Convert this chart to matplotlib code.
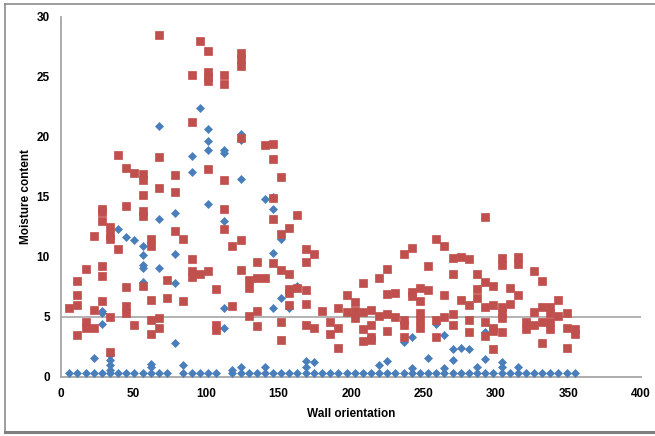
import matplotlib
matplotlib.use("Agg")
import matplotlib.pyplot as plt
from matplotlib.lines import Line2D

# ---------------- data ----------------
blue_x = [5.6, 11.3, 16.9,
          22.5, 22.5,
          28.1, 28.1, 28.1, 28.1,
          33.8, 33.8, 33.8, 33.8, 33.8,
          39.4, 39.4, 45.0, 45.0, 50.6, 50.6,
          56.3, 56.3, 56.3, 56.3, 56.3, 56.3,
          61.9, 61.9, 61.9,
          67.5, 67.5, 67.5, 67.5,
          73.1,
          78.8, 78.8, 78.8, 78.8,
          84.4, 84.4,
          90.0, 90.0, 90.0,
          95.6, 95.6,
          101.3, 101.3, 101.3, 101.3, 101.3,
          106.9,
          112.5, 112.5, 112.5, 112.5, 112.5,
          118.1, 118.1,
          123.8, 123.8, 123.8, 123.8, 123.8,
          129.4, 135.0,
          140.6, 140.6, 140.6,
          146.3, 146.3, 146.3, 146.3, 146.3,
          151.9, 151.9, 151.9,
          157.5, 157.5,
          163.1, 163.1,
          168.8, 168.8, 168.8,
          174.4, 174.4,
          180.0, 185.6, 191.3, 196.9, 202.5, 208.1, 213.8,
          219.4, 219.4, 225.0, 225.0, 230.6,
          236.3, 236.3,
          241.9, 241.9, 241.9,
          247.5,
          253.1, 253.1,
          258.8, 258.8,
          264.4, 264.4, 264.4,
          270.0, 270.0, 270.0,
          275.6, 275.6,
          281.3, 281.3,
          286.9, 286.9,
          292.5, 292.5, 292.5,
          298.1,
          303.8, 303.8, 303.8,
          309.4,
          315.0, 315.0,
          320.6, 326.3, 331.9, 337.5, 343.1, 348.8, 354.4]
blue_y = [0.35, 0.35, 0.35,
          1.6, 0.35,
          5.5, 5.3, 4.4, 0.35,
          1.8, 1.4, 1.0, 0.6, 0.35,
          12.3, 0.35, 11.6, 0.35, 11.4, 0.35,
          10.9, 10.1, 9.3, 9.1, 7.9, 0.35,
          1.1, 0.8, 0.35,
          20.9, 13.1, 9.1, 0.35,
          0.35,
          13.6, 10.25, 7.8, 2.8,
          1.0, 0.35,
          18.4, 17.05, 0.35,
          22.4, 0.35,
          20.6, 19.6, 18.9, 14.4, 0.35,
          0.35,
          18.9, 18.6, 12.95, 5.7, 4.1,
          0.6, 0.35,
          20.2, 19.7, 16.5, 0.84, 0.35,
          0.35, 0.35,
          14.8, 0.84, 0.35,
          15.0, 14.0, 10.3, 5.75, 0.35,
          11.5, 6.6, 0.35,
          5.7, 0.35,
          7.6, 0.35,
          1.34, 0.84, 0.35,
          1.25, 0.35,
          0.35, 0.35, 0.35, 0.35, 0.35, 0.35, 0.35,
          1.0, 0.35, 1.34, 0.35, 0.35,
          2.9, 0.35,
          3.3, 0.7, 0.35,
          0.35,
          1.56, 0.35,
          4.4, 0.35,
          3.5, 0.75, 0.35,
          2.3, 1.4, 0.35,
          2.4, 0.35,
          2.3, 0.35,
          0.84, 0.35,
          3.75, 1.45, 0.35,
          0.35,
          1.25, 0.84, 0.35,
          0.35,
          0.84, 0.35,
          0.35, 0.35, 0.35, 0.35, 0.35, 0.35, 0.35]

red_x = [5.6,
         11.3, 11.3, 11.3, 11.3,
         16.9, 16.9, 16.9,
         22.5, 22.5, 22.5,
         28.1, 28.1, 28.1, 28.1, 28.1, 28.1,
         33.8, 33.8, 33.8, 33.8, 33.8,
         39.4, 39.4,
         45.0, 45.0, 45.0, 45.0, 45.0,
         50.6, 50.6,
         56.3, 56.3, 56.3, 56.3, 56.3, 56.3,
         61.9, 61.9, 61.9, 61.9, 61.9,
         67.5, 67.5, 67.5, 67.5, 67.5,
         73.1, 73.1,
         78.8, 78.8, 78.8,
         84.4, 84.4,
         90.0, 90.0, 90.0, 90.0, 90.0,
         95.6, 95.6,
         101.3, 101.3, 101.3, 101.3, 101.3, 101.3,
         106.9, 106.9, 106.9,
         112.5, 112.5, 112.5, 112.5, 112.5,
         118.1, 118.1,
         123.8, 123.8, 123.8, 123.8, 123.8, 123.8,
         129.4, 129.4, 129.4,
         135.0, 135.0, 135.0, 135.0,
         140.6, 140.6,
         146.3, 146.3, 146.3, 146.3, 146.3,
         151.9, 151.9, 151.9, 151.9, 151.9,
         157.5, 157.5, 157.5, 157.5, 157.5,
         163.1, 163.1,
         168.8, 168.8, 168.8, 168.8, 168.8,
         174.4, 174.4,
         180.0,
         185.6, 185.6,
         191.3, 191.3, 191.3,
         196.9, 196.9,
         202.5, 202.5, 202.5,
         208.1, 208.1, 208.1, 208.1,
         213.8, 213.8, 213.8, 213.8,
         219.4, 219.4,
         225.0, 225.0, 225.0, 225.0,
         230.6, 230.6,
         236.3, 236.3, 236.3, 236.3,
         241.9, 241.9, 241.9,
         247.5, 247.5, 247.5, 247.5, 247.5,
         253.1, 253.1,
         258.8, 258.8, 258.8,
         264.4, 264.4, 264.4,
         270.0, 270.0, 270.0, 270.0,
         275.6, 275.6,
         281.3, 281.3, 281.3, 281.3,
         286.9, 286.9, 286.9,
         292.5, 292.5, 292.5, 292.5, 292.5,
         298.1, 298.1, 298.1, 298.1, 298.1,
         303.8, 303.8, 303.8, 303.8, 303.8, 303.8,
         309.4, 309.4,
         315.0, 315.0, 315.0,
         320.6, 320.6,
         326.3, 326.3, 326.3,
         331.9, 331.9, 331.9, 331.9,
         337.5, 337.5, 337.5, 337.5,
         343.1, 343.1,
         348.8, 348.8, 348.8,
         354.4, 354.4]
red_y = [5.7,
         7.95, 6.8, 6.0, 3.5,
         9.0, 4.6, 4.1,
         11.7, 5.6, 4.1,
         14.0, 13.7, 13.0, 9.2, 8.4, 6.3,
         12.5, 11.8, 11.5, 4.95, 2.1,
         18.5, 10.6,
         17.4, 14.2, 7.5, 5.9, 5.3,
         17.0, 4.3,
         16.9, 16.4, 15.1, 13.8, 13.4, 7.6,
         11.5, 10.9, 6.4, 4.7, 3.6,
         28.5, 18.3, 15.7, 4.9, 4.1,
         8.1, 6.6,
         16.8, 15.4, 12.1,
         11.5, 6.3,
         25.1, 21.2, 9.8, 8.8, 8.3,
         28.0, 8.6,
         27.1, 25.4, 25.0, 24.6, 17.3, 8.8,
         7.3, 4.3, 3.9,
         25.1, 24.4, 16.4, 14.0, 12.3,
         10.9, 5.9,
         27.0, 26.5, 25.9, 19.9, 11.4, 8.9,
         8.1, 7.4, 5.1,
         9.6, 8.2, 5.5, 4.2,
         19.3, 8.2,
         19.4, 18.1, 14.9, 13.1, 9.5,
         16.6, 11.9, 8.9, 4.6, 3.1,
         12.4, 8.6, 7.3, 7.0, 6.0,
         13.5, 7.4,
         10.6, 9.6, 7.2, 6.1, 4.3,
         10.2, 4.1,
         5.5,
         4.6, 3.6,
         5.7, 4.1, 2.4,
         6.8, 5.4,
         6.2, 5.5, 4.9,
         7.8, 5.4, 4.0, 3.0,
         5.6, 4.3, 3.3, 3.1,
         8.2, 5.1,
         9.0, 6.9, 5.2, 3.8,
         7.0, 5.0,
         10.2, 4.7, 4.3, 3.3,
         10.7, 7.1, 6.7,
         7.4, 6.3, 5.3, 4.7, 4.1,
         9.2, 7.2,
         11.5, 4.7, 3.3,
         10.9, 6.8, 5.0,
         9.9, 8.6, 5.2, 4.3,
         10.0, 6.4,
         9.8, 6.0, 4.7, 3.7,
         8.6, 7.3, 6.6,
         13.3, 7.9, 5.8, 4.6, 3.4,
         7.6, 6.0, 4.1, 3.8, 2.3,
         9.9, 9.3, 5.8, 5.3, 4.9, 3.7,
         7.4, 6.1,
         10.0, 9.4, 6.8,
         4.6, 3.95,
         8.8, 5.4, 4.3,
         8.0, 5.8, 4.6, 2.8,
         5.8, 5.3, 4.6, 3.95,
         6.4, 5.1,
         5.3, 4.1, 2.4,
         4.0, 3.6]

threshold = 5
x_ticks = [0, 50, 100, 150, 200, 250, 300, 350, 400]
y_ticks = [0, 5, 10, 15, 20, 25, 30]
x_label = "Wall orientation"
y_label = "Moisture content"

# ---------------- plot ----------------
plt.rcParams['font.family'] = ['Liberation Sans', 'DejaVu Sans']
W, H = 655, 436
fig = plt.figure(figsize=(W / 100, H / 100), dpi=100)
ax = fig.add_axes([61 / W, (H - 376.7) / H, (641 - 61) / W, (376.7 - 16.7) / H])

blue_c = "#4A7EBB"
red_c = "#C0504D"
ax.plot(blue_x, blue_y, linestyle="none", marker="D", markersize=3.9,
        markerfacecolor=blue_c, markeredgecolor=blue_c, markeredgewidth=0.5, zorder=3)
ax.plot(red_x, red_y, linestyle="none", marker="s", markersize=5.3,
        markerfacecolor=red_c, markeredgecolor=red_c, markeredgewidth=0.5, zorder=4)

ax.axhline(threshold, color="#A6A6A6", lw=1.2, zorder=1)

ax.set_xlim(x_ticks[0], x_ticks[-1])
ax.set_ylim(y_ticks[0], y_ticks[-1])
ax.set_xticks(x_ticks)
ax.set_yticks(y_ticks)
ax.tick_params(length=0, labelsize=8.5, pad=8)
for lab in ax.get_xticklabels() + ax.get_yticklabels():
    lab.set_fontweight("bold")

for s in ["top", "right"]:
    ax.spines[s].set_visible(False)
for s in ["left", "bottom"]:
    ax.spines[s].set_color("#A6A6A6")
    ax.spines[s].set_linewidth(1.3)

ax.set_xlabel(x_label, fontsize=8.5, fontweight="bold", labelpad=6)
ax.set_ylabel(y_label, fontsize=8.5, fontweight="bold", labelpad=3)

# outer chart frame
fc = "#8C8C8C"
fig.add_artist(Line2D([5 / W, 1], [1 - 4 / H, 1 - 4 / H], transform=fig.transFigure, color=fc, lw=1.2))
fig.add_artist(Line2D([5 / W, 5 / W], [1 - 4 / H, 1 - 432 / H], transform=fig.transFigure, color=fc, lw=1.2))
fig.add_artist(Line2D([5 / W, 1], [1 - 432 / H, 1 - 432 / H], transform=fig.transFigure, color="#7F7F7F", lw=2.2))

fig.savefig("out.png", dpi=100)
